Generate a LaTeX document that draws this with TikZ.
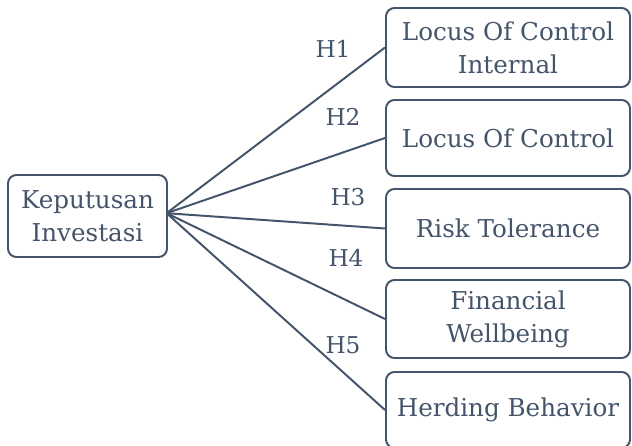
\documentclass[tikz,border=0pt]{standalone}
\usepackage{fontspec}
\setmainfont{DejaVu Serif}
\usetikzlibrary{positioning}
\definecolor{slateC}{RGB}{68,84,106}
\tikzset{
  varbox/.style={draw=slateC, line width=1.4pt, rounded corners=6pt, align=center,
    text=slateC, font=\fontsize{17.5}{23.5}\selectfont, inner sep=2pt},
  hlabel/.style={text=slateC, font=\fontsize{16.5}{18}\selectfont, inner sep=0pt},
  link/.style={draw=slateC, line width=1.4pt}
}

\begin{document}
\begin{tikzpicture}[x=0.025cm, y=-0.025cm]
  \useasboundingbox (0,0) rectangle (632,446);
  \clip (0,0) rectangle (632,446);
  % dependent variable
  \node[varbox, minimum width=159*0.025cm, minimum height=82*0.025cm] (kep) at (87.5,216) {Keputusan\\Investasi};
  % independent variables
  \foreach \n/\y/\h/\t in {loci/47.5/79/{Locus Of Control\\Internal},
                           loc/138/76/{Locus Of Control},
                           risk/228.5/79/{Risk Tolerance},
                           fin/319/78/{Financial\\Wellbeing},
                           herd/410/76/{Herding Behavior}}{
    \node[varbox, minimum width=244*0.025cm, minimum height=\h*0.025cm] (\n) at (508,\y) {\t};
  }
  \foreach \n in {loci,loc,risk,fin,herd}
    \draw[link] ([xshift=-1pt, yshift=2pt]kep.east) -- (\n.west);
  % hypotheses
  \node[hlabel] (h1) at (333,49) {H1};
  \node[hlabel] (h2) at (343,117) {H2};
  \node[hlabel] (h3) at (348,197) {H3};
  \node[hlabel] (h4) at (346,258) {H4};
  \node[hlabel] (h5) at (343,345) {H5};
\end{tikzpicture}
\end{document}
